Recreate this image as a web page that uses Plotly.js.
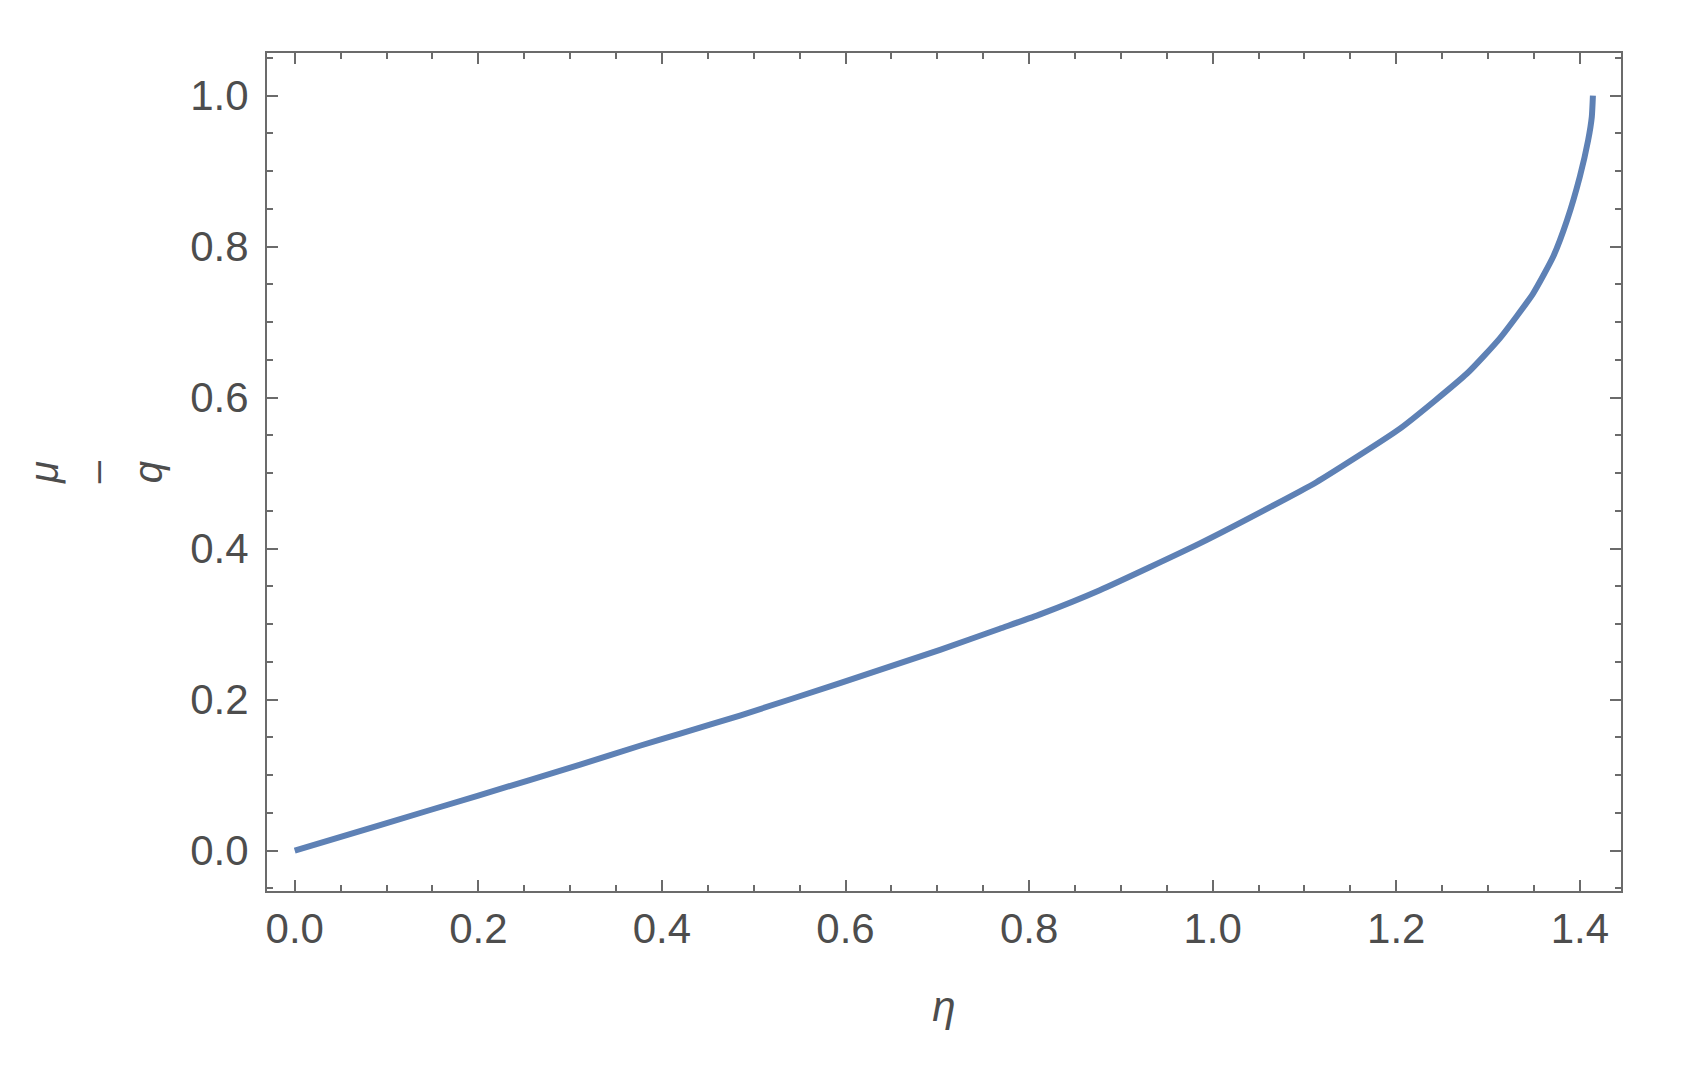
<!DOCTYPE html>
<html>
<head>
<meta charset="utf-8">
<script src="https://cdn.plot.ly/plotly-3.0.1.min.js"></script>
<style>
  html, body { margin: 0; padding: 0; background: #fff; }
  #plot { width: 1684px; height: 1066px; }
</style>
</head>
<body>
<div id="plot"></div>
<script>
// values
let eta = [0, 0.093, 0.2, 0.311, 0.376, 0.42, 0.485, 0.594, 0.703, 0.768, 0.812, 0.877,
           0.986, 1.095, 1.113, 1.204, 1.277, 1.313, 1.349, 1.371, 1.386, 1.400, 1.409, 1.413, 1.4142];
let muOverQ = [0, 0.034, 0.073, 0.114, 0.139, 0.155, 0.179, 0.222, 0.266, 0.294, 0.313, 0.345,
               0.407, 0.476, 0.488, 0.559, 0.632, 0.679, 0.738, 0.787, 0.835, 0.893, 0.941, 0.972, 1.0];

let frameColor = '#6b6b6b';
let textColor = '#4d4d4d';

let trace = {
    x: eta,
    y: muOverQ,
    type: 'scatter',
    mode: 'lines',
    line: { color: '#5e81b5', width: 6, shape: 'spline', smoothing: 0.5 },
    hoverinfo: 'none'
};

let axisStyle = {
    showline: true,
    linecolor: frameColor,
    linewidth: 2,
    mirror: 'ticks',
    ticks: 'inside',
    ticklen: 11,
    tickwidth: 2,
    tickcolor: frameColor,
    tick0: 0,
    dtick: 0.2,
    tickformat: '.1f',
    showgrid: false,
    zeroline: false,
    minor: { dtick: 0.05, ticks: 'inside', ticklen: 6, tickwidth: 2, tickcolor: frameColor },
    tickfont: { family: 'Liberation Sans, Arial, sans-serif', size: 42, color: textColor }
};

let layout = {
    width: 1684,
    height: 1066,
    margin: { l: 267, r: 63, t: 53, b: 175 },
    paper_bgcolor: '#ffffff',
    plot_bgcolor: '#ffffff',
    showlegend: false,
    xaxis: Object.assign({}, axisStyle, {
        range: [-0.0302, 1.4448],
        ticklabelstandoff: 0,
        title: {
            text: 'η',
            standoff: 40,
            font: { family: 'Liberation Sans, Arial, sans-serif', size: 42, color: textColor, style: 'italic' }
        }
    }),
    yaxis: Object.assign({}, axisStyle, {
        range: [-0.0534, 1.0566],
        ticklabelstandoff: 8,
        title: {
            text: '<i>μ</i><br>–<br><i>q</i>',
            standoff: 15,
            font: { family: 'Liberation Sans, Arial, sans-serif', size: 40, color: textColor }
        }
    })
};

Plotly.newPlot('plot', [trace], layout, { displayModeBar: false, staticPlot: true });
</script>
</body>
</html>
